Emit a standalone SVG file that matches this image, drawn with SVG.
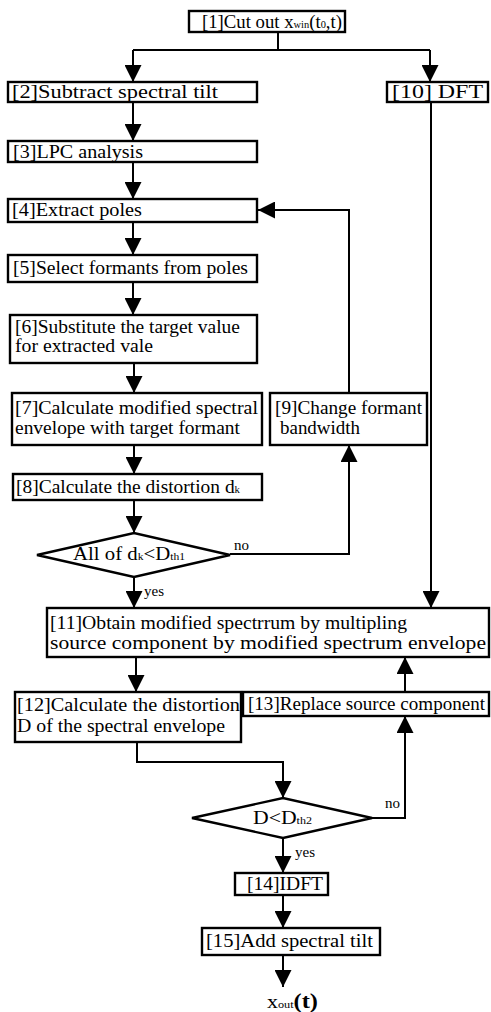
<svg xmlns="http://www.w3.org/2000/svg" width="491" height="1012" viewBox="0 0 491 1012">
<style>
.box{fill:#fff;stroke:#000;stroke-width:2.4}
.ln{fill:none;stroke:#000;stroke-width:2}
.t{font-family:"Liberation Serif","Times New Roman",serif;font-size:18px;fill:#000}
.s{font-size:10px}
.lb{font-family:"Liberation Serif","Times New Roman",serif;font-size:15px;fill:#000}
</style>
<defs>
<marker id="ah" markerUnits="userSpaceOnUse" viewBox="0 0 17 17" refX="17" refY="8.5" markerWidth="17" markerHeight="17" orient="auto">
<path d="M0,0 L17,8.5 L0,17 Z" fill="#000"/>
</marker>
</defs>
<g id="connectors">
<path class="ln" d="M278,32 V50 M133,50 H430"/>
<path class="ln" d="M133,50 V82" marker-end="url(#ah)"/>
<path class="ln" d="M430,50 V82" marker-end="url(#ah)"/>
<path class="ln" d="M133,102 V141" marker-end="url(#ah)"/>
<path class="ln" d="M133,162 V199" marker-end="url(#ah)"/>
<path class="ln" d="M133,222 V255" marker-end="url(#ah)"/>
<path class="ln" d="M133,282 V315" marker-end="url(#ah)"/>
<path class="ln" d="M134,363 V393" marker-end="url(#ah)"/>
<path class="ln" d="M134,445 V474" marker-end="url(#ah)"/>
<path class="ln" d="M134,500 V533" marker-end="url(#ah)"/>
<path class="ln" d="M230,554 H349 V445" marker-end="url(#ah)"/>
<path class="ln" d="M349,393 V210 H258" marker-end="url(#ah)"/>
<path class="ln" d="M134,577 V608" marker-end="url(#ah)"/>
<path class="ln" d="M431,102 V608" marker-end="url(#ah)"/>
<path class="ln" d="M136,657 V692" marker-end="url(#ah)"/>
<path class="ln" d="M405,692 V657" marker-end="url(#ah)"/>
<path class="ln" d="M137,742 V762 H283 V798" marker-end="url(#ah)"/>
<path class="ln" d="M372,818 H405 V716" marker-end="url(#ah)"/>
<path class="ln" d="M283,838 V873" marker-end="url(#ah)"/>
<path class="ln" d="M283,895 V928" marker-end="url(#ah)"/>
<path class="ln" d="M283,955 V987" marker-end="url(#ah)"/>
<text class="lb" x="234" y="550">no</text>
<text class="lb" x="144" y="596">yes</text>
<text class="lb" x="385" y="808">no</text>
<text class="lb" x="295" y="857">yes</text>
</g>
<g id="n1"><rect class="box" x="189" y="11" width="156" height="21"/>
<text class="t" x="202" y="28" textLength="140" lengthAdjust="spacingAndGlyphs">[1]Cut out x<tspan class="s">win</tspan>(t<tspan class="s">0</tspan>,t)</text></g>
<g id="n2"><rect class="box" x="8" y="82" width="249" height="20"/>
<text class="t" x="12" y="98" textLength="206" lengthAdjust="spacingAndGlyphs">[2]Subtract spectral tilt</text></g>
<g id="n10"><rect class="box" x="387" y="82" width="101" height="20"/>
<text class="t" x="392" y="98" textLength="91" lengthAdjust="spacingAndGlyphs">[10] DFT</text></g>
<g id="n3"><rect class="box" x="8" y="141" width="249" height="21"/>
<text class="t" x="13" y="158" textLength="130" lengthAdjust="spacingAndGlyphs">[3]LPC analysis</text></g>
<g id="n4"><rect class="box" x="8" y="199" width="249" height="23"/>
<text class="t" x="12" y="216" textLength="130" lengthAdjust="spacingAndGlyphs">[4]Extract poles</text></g>
<g id="n5"><rect class="box" x="8" y="255" width="249" height="27"/>
<text class="t" x="13" y="274" textLength="235" lengthAdjust="spacingAndGlyphs">[5]Select formants from poles</text></g>
<g id="n6"><rect class="box" x="10" y="315" width="247" height="48"/>
<text class="t" x="15" y="333" textLength="225" lengthAdjust="spacingAndGlyphs">[6]Substitute the target value</text>
<text class="t" x="15" y="352" textLength="138" lengthAdjust="spacingAndGlyphs">for extracted vale</text></g>
<g id="n7"><rect class="box" x="12" y="393" width="250" height="52"/>
<text class="t" x="15" y="414" textLength="243" lengthAdjust="spacingAndGlyphs">[7]Calculate  modified spectral</text>
<text class="t" x="15" y="434" textLength="225" lengthAdjust="spacingAndGlyphs">envelope with target formant</text></g>
<g id="n9"><rect class="box" x="270" y="393" width="157" height="52"/>
<text class="t" x="275" y="414" textLength="147" lengthAdjust="spacingAndGlyphs">[9]Change formant</text>
<text class="t" x="280" y="434" textLength="80" lengthAdjust="spacingAndGlyphs">bandwidth</text></g>
<g id="n8"><rect class="box" x="13" y="474" width="249" height="26"/>
<text class="t" x="16" y="493" textLength="224" lengthAdjust="spacingAndGlyphs">[8]Calculate the distortion d<tspan class="s">k</tspan></text></g>
<g id="d1"><polygon class="box" points="37,555 134,533 230,555 134,577"/>
<text class="t" x="73" y="560" textLength="112" lengthAdjust="spacingAndGlyphs">All of d<tspan class="s">k</tspan>&lt;D<tspan class="s">th1</tspan></text></g>
<g id="n11"><rect class="box" x="47" y="608" width="442" height="49"/>
<text class="t" x="50" y="629" textLength="357" lengthAdjust="spacingAndGlyphs">[11]Obtain modified spectrrum by multipling</text>
<text class="t" x="50" y="649" textLength="436" lengthAdjust="spacingAndGlyphs">source component by modified spectrum envelope</text></g>
<g id="n12"><rect class="box" x="15" y="692" width="226" height="50"/>
<text class="t" x="17" y="711" textLength="223" lengthAdjust="spacingAndGlyphs">[12]Calculate the distortion</text>
<text class="t" x="17" y="732" textLength="208" lengthAdjust="spacingAndGlyphs">D of the spectral envelope</text></g>
<g id="n13"><rect class="box" x="243" y="692" width="246" height="24"/>
<text class="t" x="248" y="710" textLength="237" lengthAdjust="spacingAndGlyphs">[13]Replace source component</text></g>
<g id="d2"><polygon class="box" points="192,818 283,798 372,818 283,838"/>
<text class="t" x="253" y="824" textLength="59" lengthAdjust="spacingAndGlyphs">D&lt;D<tspan class="s">th2</tspan></text></g>
<g id="n14"><rect class="box" x="235" y="873" width="93" height="22"/>
<text class="t" x="247" y="890" textLength="76" lengthAdjust="spacingAndGlyphs">[14]IDFT</text></g>
<g id="n15"><rect class="box" x="202" y="928" width="178" height="27"/>
<text class="t" x="206" y="947" textLength="167" lengthAdjust="spacingAndGlyphs">[15]Add spectral tilt</text></g>
<g id="out"><text class="t" x="267" y="1008" textLength="51" lengthAdjust="spacingAndGlyphs">x<tspan class="s">out</tspan><tspan font-size="20" font-weight="bold">(t)</tspan></text></g>
</svg>
